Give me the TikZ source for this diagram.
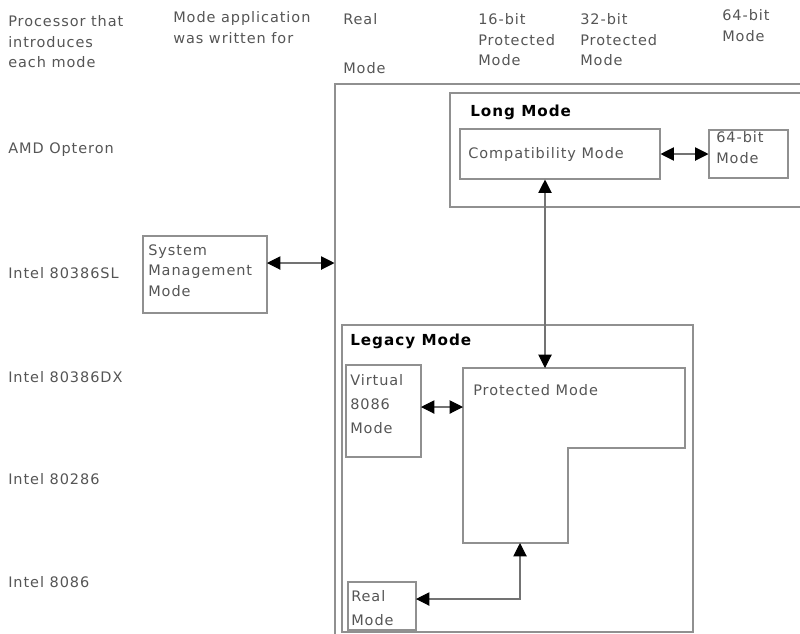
\documentclass[tikz,border=0pt]{standalone}
\usepackage{fontspec}
\setmainfont[LetterSpace=6.5]{DejaVu Sans}
\usetikzlibrary{positioning, arrows.meta, fit}
\definecolor{boxline}{HTML}{909090}
\definecolor{labeltext}{HTML}{555555}

\begin{document}
\begin{tikzpicture}[x=0.025cm, y=-0.025cm,
    box/.style={draw=boxline, line width=0.75pt, inner sep=0pt},
    txt/.style={text=labeltext, font=\fontsize{10.3}{14.8}\selectfont, align=left, inner sep=0pt, anchor=north west},
    row/.style={text=labeltext, font=\fontsize{10.3}{14.8}\selectfont, inner sep=0pt, anchor=west},
    head/.style={font=\bfseries\fontsize{10.8}{12}\selectfont, inner sep=0pt, anchor=west},
    link/.style={draw=boxline!80!black, line width=0.75pt,
        {Triangle[length=9.5pt, width=9.5pt, color=black]}-{Triangle[length=9.5pt, width=9.5pt, color=black]}}]
    \useasboundingbox (0,0) rectangle (800,633);
    \clip (0,0) rectangle (800,633);

    % Column headings
    \node (hproc) [txt] at (8,15) {Processor that\\introduces\\each mode};
    \node (happ) [txt] at (173,11) {Mode application\\was written for};
    \node (hreal) [txt] at (343,13) {Real};
    \node (hrealb) [txt] at (343,62) {Mode};
    \node (h16) [txt] at (478,13) {16-bit\\Protected\\Mode};
    \node (h32) [txt] at (580,13) {32-bit\\Protected\\Mode};
    \node (h64) [txt] at (722,9) {64-bit\\Mode};

    % Processors
    \node (amd) [row] at (8,150) {AMD Opteron};
    \node (sl) [row] at (8,273) {Intel 80386SL};
    \node (dx) [row] at (8,377) {Intel 80386DX};
    \node (i286) [row] at (8,479) {Intel 80286};
    \node (i86) [row] at (8,582) {Intel 8086};

    % Outer frames
    \node (outer) [box, fit={(335,84) (830,700)}] {};
    \node (longmode) [box, fit={(450,93) (830,207)}] {};
    \node [head] at (470,112) {Long Mode};
    \node (legacy) [box, fit={(342,325) (693,632)}] {};
    \node [head] at (350,341) {Legacy Mode};

    % Mode boxes
    \node (compat) [box, fit={(460,129) (660,179)}] {};
    \node [row] at (468,154) {Compatibility Mode};
    \node (bit64) [box, fit={(709,130) (788,178)}] {};
    \node [txt] at (716,131) {64-bit\\Mode};
    \node (smm) [box, fit={(143,236) (267,313)}] {};
    \node [txt] at (148,244) {System\\Management\\Mode};
    \node (virt) [box, fit={(346,365) (421,457)}] {};
    \node [txt, font=\fontsize{10.3}{17}\selectfont] at (350,374) {Virtual\\8086\\Mode};
    \node (real) [box, fit={(348,582) (416,630)}] {};
    \node [txt, font=\fontsize{10.3}{17.5}\selectfont] at (351,590) {Real\\Mode};

    % Protected mode outline
    \coordinate (pnw) at (463,368);
    \coordinate (ptop) at (545,368);
    \coordinate (pbot) at (520,543);
    \draw [draw=boxline, line width=0.75pt] (pnw) -- (685,368) -- (685,448) -- (568,448)
        -- (568,543) -- (463,543) -- cycle;
    \node [row] at (473,390) {Protected Mode};

    % Transitions
    \coordinate (smmport) at (267,263);
    \coordinate (virtport) at (421,407);
    \coordinate (realport) at (416,599);
    \draw [link] (compat) -- (bit64);
    \draw [link] (compat.south -| ptop) -- (ptop);
    \draw [link] (smmport) -- (smmport -| outer.west);
    \draw [link] (virtport) -- (virtport -| pnw);
    \draw [link] (realport) -| (pbot);
\end{tikzpicture}
\end{document}
